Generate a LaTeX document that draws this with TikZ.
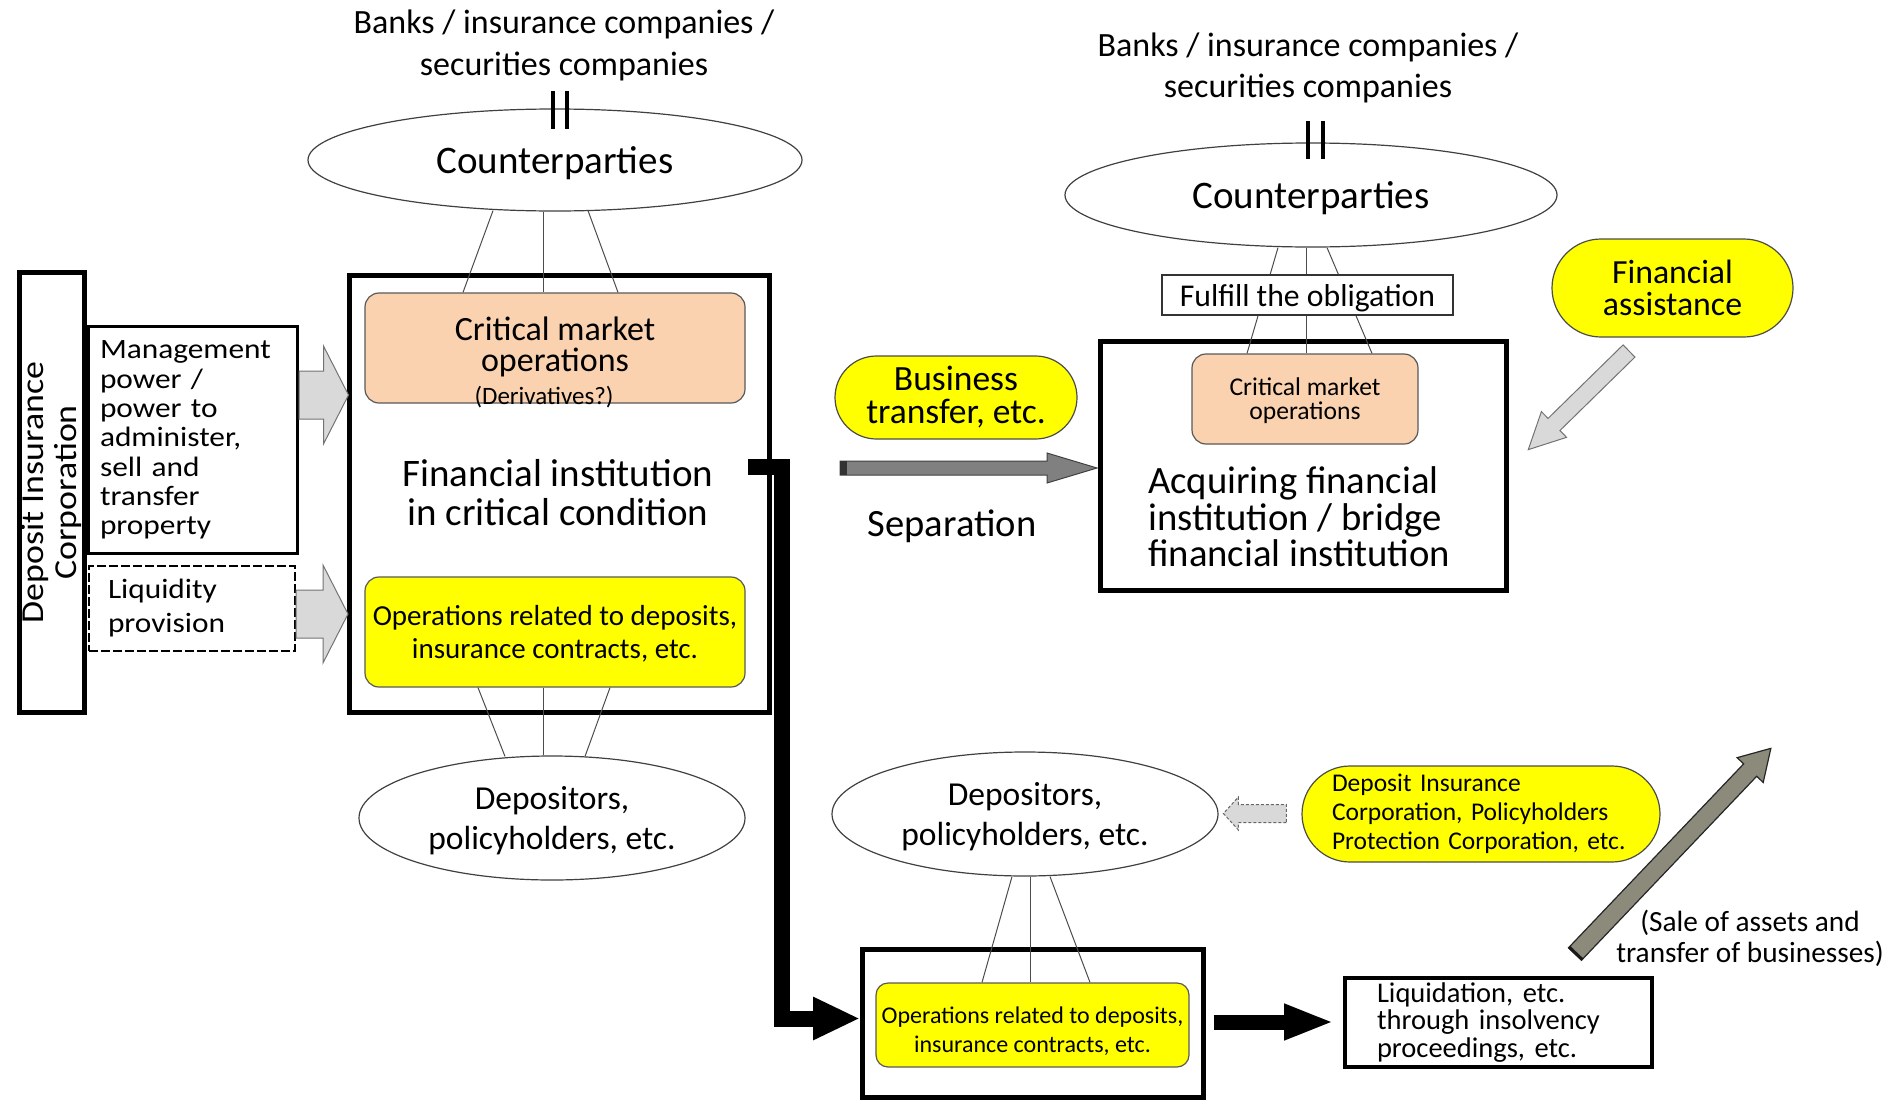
\documentclass[tikz,border=0pt]{standalone}
\usepackage{fontspec}
\setmainfont{Carlito}
\newfontfamily\widefont[FakeStretch=1.12]{Carlito}
\usetikzlibrary{shapes.geometric,calc,arrows.meta}
\definecolor{peach}{RGB}{250,210,176}
\definecolor{ylw}{RGB}{255,255,0}
\definecolor{lgray}{RGB}{217,217,217}
\definecolor{sepgray}{RGB}{128,128,128}
\definecolor{saleol}{RGB}{140,138,122}
\newcommand\myfs[2]{\fontsize{#1pt}{#2pt}\selectfont}
% #1 style, #2 tail, #3 angle, #4 length, #5 shaft half width, #6 head half width, #7 head length
\newcommand\blockarrow[7]{%
  \begin{scope}[shift={(#2)},rotate=#3]
    \draw[#1] (0,-#5) -- ({#4-#7},-#5) -- ({#4-#7},-#6) -- (#4,0) -- ({#4-#7},#6) -- ({#4-#7},#5) -- (0,#5) -- cycle;
  \end{scope}}
\begin{document}
\begin{tikzpicture}[x=1pt,y=-1pt,
  bigbox/.style={draw=black, line width=5pt, inner sep=0pt},
  ell/.style={ellipse, draw=black!75, line width=1.2pt, fill=white, inner sep=0pt, align=center},
  peachbox/.style={draw=black!65, line width=1.2pt, fill=peach, rounded corners=14pt, inner sep=0pt, align=center},
  yelbox/.style={draw=black!65, line width=1.2pt, fill=ylw, rounded corners=14pt, inner sep=0pt, align=center},
  pill/.style={draw=black!70, line width=1.2pt, fill=ylw, inner sep=0pt},
  tie/.style={draw=black!70, line width=1pt},
  lab/.style={inner sep=0pt, align=center},
  eqbar/.style={draw=black, line width=3.5pt},
  lgarrow/.style={draw=black!55, line width=1pt, fill=lgray},
  dasharrow/.style={draw=black!60, line width=1pt, fill=lgray, dash pattern=on 3pt off 2pt},
  separrow/.style={draw=black!75, line width=1pt, fill=sepgray},
  salearrow/.style={draw=black!85, line width=1.2pt, fill=saleol},
  heavy/.style={draw=black, line width=16pt}
]
\useasboundingbox (0,0) rectangle (1895,1100);

% ---------- left: Deposit Insurance Corporation ----------
\node[bigbox, rotate=90, minimum width=440pt, minimum height=65pt, align=center,
      font={\widefont\myfs{32}{33}}] (dic) at (52,492.5) {Deposit Insurance\\Corporation};
\node[draw=black, line width=3pt, minimum width=209pt, minimum height=227pt, inner sep=0pt,
      text width=186pt, align=left, font={\widefont\myfs{28}{29.3}}] (mgmt) at (193,440)
      {Management\\power /\\power to\\administer,\\sell and\\transfer\\property};
\node[draw=black, dash pattern=on 9pt off 3pt, line width=2pt, minimum width=206pt, minimum height=85pt,
      inner sep=0pt, text width=168pt, align=left, font={\widefont\myfs{28}{34}}] (liq) at (192,608.5)
      {Liquidity\\provision};

% ---------- left: financial institution in critical condition ----------
\node[bigbox, minimum width=420pt, minimum height=437pt] (fi) at (559.5,494) {};
\node[peachbox, minimum width=380pt, minimum height=110pt] (crit) at (555,348) {};
\node[lab, font={\myfs{34}{30.5}}] (crittext) at (555,347) {Critical market\\operations};
\node[lab, font={\myfs{25}{25}}] (deriv) at (544,397) {(Derivatives?)};
\node[lab, font={\myfs{39}{39}}] (fitext) at (558,493) {Financial institution\\in critical condition};
\node[yelbox, minimum width=380pt, minimum height=110pt, text depth=0pt, font={\myfs{29}{33.5}}] (ops) at (555,632)
      {Operations related to deposits,\\insurance contracts, etc.};

\blockarrow{lgarrow}{$(mgmt.east)+(0,-45)$}{0}{49.5}{24}{49}{25}
\blockarrow{lgarrow}{$(liq.east)+(0,5.5)$}{0}{52}{24}{49}{25}

% counterparties (left)
\node[lab, font={\myfs{34}{42}}] (banksL) at (564,45) {Banks / insurance companies /\\securities companies};
\node[ell, minimum width=494pt, minimum height=102pt, text depth=0pt, font={\myfs{39}{40}}] (cpL) at (555,160) {Counterparties};
\draw[eqbar] ($(cpL.north)+(-2,-17)$) -- ++(0,38) ($(cpL.north)+(12,-17)$) -- ++(0,38);
\draw[tie] ($(cpL.south)+(-62,-1)$) -- ($(crit.north)+(-92,0)$);
\draw[tie] ($(cpL.south)+(-12,0)$) -- ($(crit.north)+(-12,0)$);
\draw[tie] ($(cpL.south)+(33,-1)$) -- ($(crit.north)+(63,0)$);

% depositors (left)
\node[ell, minimum width=386pt, minimum height=124pt, text depth=0pt, font={\myfs{33.5}{40}}] (depL) at (552,818)
      {Depositors,\\policyholders, etc.};
\draw[tie] ($(ops.south)+(-77,0)$) -- ($(depL.north)+(-47,1)$);
\draw[tie] ($(ops.south)+(-12,0)$) -- ($(depL.north)+(-9,0)$);
\draw[tie] ($(ops.south)+(55,0)$) -- ($(depL.north)+(33,1)$);

% ---------- right: acquiring institution ----------
\node[lab, font={\myfs{34}{41}}] (banksR) at (1308,68) {Banks / insurance companies /\\securities companies};
\node[ell, minimum width=492pt, minimum height=104pt, text depth=0pt, font={\myfs{39}{40}}] (cpR) at (1311,195) {Counterparties};
\draw[eqbar] ($(cpR.north)+(-3,-21)$) -- ++(0,38) ($(cpR.north)+(12,-21)$) -- ++(0,38);
\node[bigbox, minimum width=406pt, minimum height=249pt] (acq) at (1303.5,466) {};
\node[peachbox, minimum width=226pt, minimum height=90pt, text depth=0pt, font={\myfs{25.6}{24}}] (critR) at (1305,399)
      {Critical market\\operations};
\draw[tie] ($(cpR.south)+(-33,0)$) -- ($(critR.north)+(-58,0)$);
\draw[tie] ($(cpR.south)+(-5,0)$) -- ($(critR.north)+(1,0)$);
\draw[tie] ($(cpR.south)+(16,0)$) -- ($(critR.north)+(67,0)$);
\node[draw=black!80, line width=1.5pt, fill=white, minimum width=291pt, minimum height=40pt, inner sep=0pt,
      text depth=0pt, font={\myfs{31.7}{32}}] (fulfill) at (1307.5,295) {Fulfill the obligation};
\node[lab, anchor=west, align=left, font={\myfs{38.7}{36.5}}] (acqtext) at (1148,517)
      {Acquiring financial\\institution / bridge\\financial institution};

% business transfer / separation
\node[pill, rounded corners=41.5pt, minimum width=242pt, minimum height=83pt, align=center,
      font={\myfs{35.5}{33}}] (bt) at (956,397.5) {Business\\transfer, etc.};
\coordinate (septail) at (840,468);
\blockarrow{separrow}{septail}{0}{257}{7}{15}{50}
\fill[black!80] (septail) ++(0,-7) rectangle ++(7,14);
\node[lab, font={\myfs{38.6}{40}}] (sep) at (952,526) {Separation};

% financial assistance
\node[pill, rounded corners=49pt, minimum width=241pt, minimum height=98pt, align=center,
      font={\myfs{33.8}{32}}] (fa) at (1672.5,288) {Financial\\assistance};
\coordinate (fatail) at (1629,351);
\blockarrow{lgarrow}{fatail}{224.4}{141}{8.5}{18}{36}

% ---------- lower: operations transferred / liquidation ----------
\node[ell, minimum width=386pt, minimum height=124pt, text depth=0pt, font={\myfs{33.5}{40}}] (depR) at (1025,814)
      {Depositors,\\policyholders, etc.};
\node[bigbox, minimum width=341pt, minimum height=148pt] (low) at (1033,1023.5) {};
\node[yelbox, rounded corners=12pt, minimum width=313pt, minimum height=84pt] (lowops) at (1032.5,1025) {};
\node[lab, font={\myfs{24}{29}}] (lowopstext) at (1032.5,1031)
      {Operations related to deposits,\\insurance contracts, etc.};
\draw[tie] ($(depR.south)+(-13,0)$) -- ($(lowops.north)+(-50.5,0)$);
\draw[tie] ($(depR.south)+(5,0)$) -- ($(lowops.north)+(-2.5,0)$);
\draw[tie] ($(depR.south)+(25,0)$) -- ($(lowops.north)+(57.5,0)$);

% elbow arrow from failing institution to lower box
\coordinate (elbowstart) at (748,467);
\coordinate (elbowend) at (860,1018.5);
\draw[heavy, line join=miter, -{Triangle[length=47pt,width=40pt]}] (elbowstart) -| (782,1018.5) -- (elbowend);

% liquidation
\node[draw=black, line width=4pt, minimum width=307pt, minimum height=89pt, inner sep=0pt,
      text width=243pt, align=left, font={\myfs{28.5}{27.5}}] (liqd) at (1498.5,1022.5)
      {Liquidation, etc.\\through insolvency\\proceedings, etc.};
\draw[draw=black, line width=15pt, -{Triangle[length=50pt,width=33pt]}] ($(low.east)+(7.5,-1.5)$) -- ($(liqd.west)+(-9,-0.5)$);

% deposit insurance corporation pill
\node[pill, rounded corners=48pt, minimum width=358pt, minimum height=96pt, text width=298pt, align=left,
      font={\myfs{25.5}{29}}] (dicp) at (1481,814)
      {Deposit Insurance\\Corporation, Policyholders\\Protection Corporation, etc.};
\blockarrow{dasharrow}{$(dicp.west)+(-15,-0.5)$}{180}{63}{9}{16.5}{15}

% sale of assets
\coordinate (saletail) at (1575,954);
\blockarrow{salearrow}{saletail}{46.4}{284}{9}{18}{30}
\begin{scope}[shift={(saletail)},rotate=46.4]
  \draw[black!90, line width=3pt] (1,-9) -- (1,9);
\end{scope}
\node[lab, font={\myfs{29.3}{31}}] (saletext) at (1750,938) {(Sale of assets and\\transfer of businesses)};
\end{tikzpicture}
\end{document}
